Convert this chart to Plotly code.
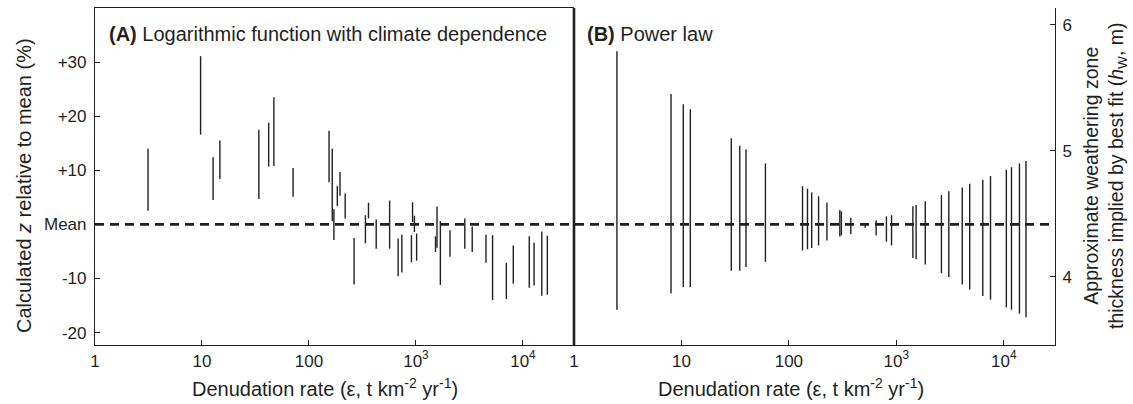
import plotly.graph_objects as go

# ---------------- Data ----------------
# Panel A: logarithmic function with climate dependence (% relative to mean)
a_rate = [3.13, 9.7, 12.7, 14.7, 34, 42, 47, 71, 154, 165, 171, 184, 195, 218,
          264, 337, 360, 425, 567, 681, 738, 907, 929, 967, 1014, 1523, 1573,
          1690, 2080, 2860, 3355, 4510, 5200, 6990, 8120, 11450, 12700, 15000, 16900]
a_high = [14.0, 31.1, 12.4, 15.5, 17.5, 18.8, 23.5, 10.4, 17.3, 14.0, 2.8, 7.1, 9.7, 5.7,
          -2.5, 1.7, 4.0, 0.9, 4.4, -2.6, -1.9, -2.0, 4.1, 1.6, -1.7, -2.2, 3.3,
          0.6, -1.1, 1.1, -0.4, -1.9, -2.0, -7.1, -3.9, -2.2, -3.4, -1.3, -2.1]
a_low = [2.5, 16.6, 4.5, 8.4, 4.7, 10.7, 10.8, 5.1, 7.8, 0.6, -2.9, 3.4, 5.3, 1.1,
         -11.1, -3.5, 1.1, -4.5, -4.5, -9.6, -8.9, -7.0, 0.4, -1.4, -6.7, -5.1, -4.3,
         -11.2, -6.0, -4.5, -5.1, -7.1, -14.0, -13.8, -11.0, -11.7, -11.3, -13.2, -13.0]

# Panel B: power law (weathering zone thickness, m)
b_rate = [2.51, 8.0, 10.4, 12.1, 29.1, 34.9, 39.9, 60.5, 134, 149, 163, 189, 226, 298,
          308, 377, 513, 649, 809, 903, 1426, 1528, 1860, 2630, 3080, 4110, 4820,
          6380, 7530, 10570, 11800, 14000, 16100]
b_high = [5.79, 5.45, 5.37, 5.33, 5.10, 5.04, 5.01, 4.90, 4.72, 4.70, 4.67, 4.64, 4.59, 4.53,
          4.52, 4.47, 4.42, 4.45, 4.48, 4.49, 4.56, 4.57, 4.60, 4.65, 4.68, 4.71, 4.74,
          4.77, 4.80, 4.85, 4.87, 4.90, 4.92]
b_low = [3.74, 3.87, 3.92, 3.92, 4.05, 4.05, 4.08, 4.12, 4.21, 4.22, 4.23, 4.25, 4.29, 4.32,
         4.33, 4.34, 4.39, 4.33, 4.28, 4.25, 4.15, 4.14, 4.10, 4.03, 4.00, 3.94, 3.90,
         3.85, 3.82, 3.76, 3.74, 3.71, 3.68]

x_tickvals = [1, 10, 100, 1000, 10000]
x_ticktext = ["1", "10", "100", "10<sup>3</sup>", "10<sup>4</sup>"]
y_tickvals = [30, 20, 10, 0, -10, -20]
y_ticktext = ["+30", "+20", "+10", "Mean", "-10", "-20"]
y2_tickvals = [4, 5, 6]


def segments(xv, lo, hi):
    xs, ys = [], []
    for x, l, h in zip(xv, lo, hi):
        xs += [x, x, None]
        ys += [l, h, None]
    return xs, ys


INK = "#231f20"
FONT = "Liberation Sans, Arial, Helvetica, sans-serif"

fig = go.Figure()
ax, ay = segments(a_rate, a_low, a_high)
fig.add_trace(go.Scatter(x=ax, y=ay, mode="lines", xaxis="x", yaxis="y",
                         line=dict(color=INK, width=1.4), showlegend=False,
                         hoverinfo="skip"))
bx, by = segments(b_rate, b_low, b_high)
fig.add_trace(go.Scatter(x=bx, y=by, mode="lines", xaxis="x2", yaxis="y2",
                         line=dict(color=INK, width=1.4), showlegend=False,
                         hoverinfo="skip"))

L, R, T, B = 95, 78, 8, 59
PW = 1133 - L - R
PH = 404 - T - B
split = (574 - L) / PW

axis_common = dict(showgrid=False, zeroline=False, showline=True, linecolor=INK,
                   linewidth=1.2, ticks="inside", ticklen=5, tickwidth=1,
                   tickcolor=INK, tickfont=dict(family=FONT, size=17, color=INK))

fig.update_layout(
    width=1133, height=404,
    margin=dict(l=L, r=R, t=T, b=B),
    paper_bgcolor="white", plot_bgcolor="white",
    font=dict(family=FONT, color=INK),
    xaxis=dict(type="log", range=[0, 4.477], domain=[0, split], anchor="y",
               tickvals=x_tickvals, ticktext=x_ticktext, mirror=True,
               ticklabelstandoff=0, **axis_common),
    yaxis=dict(range=[-22.3, 40], anchor="x", tickvals=y_tickvals,
               ticktext=y_ticktext, ticklabelstandoff=4, **axis_common),
    xaxis2=dict(type="log", range=[0, 4.477], domain=[split, 1], anchor="y2",
                tickvals=x_tickvals, ticktext=x_ticktext,
                ticklabelstandoff=0, **axis_common),
    yaxis2=dict(range=[3.461, 6.132], anchor="x2", side="right",
                tickvals=y2_tickvals, ticklabelstandoff=3, **axis_common),
)

# mean dashed line across both panels
fig.add_shape(type="line", xref="paper", yref="y", x0=0, x1=1, y0=0, y1=0,
              line=dict(color=INK, width=2.6, dash="9px,6px"), layer="below")
# thick divider between panels
fig.add_shape(type="line", xref="paper", yref="paper", x0=split, x1=split,
              y0=0, y1=1, line=dict(color=INK, width=2.6))


def px_x(px):
    return (px - L) / PW


def px_y(py):
    return 1 - (py - T) / PH


TF = dict(family=FONT, size=20, color=INK)
ann = []
ann.append(dict(text="<b>(A)</b> Logarithmic function with climate dependence",
                xref="paper", yref="paper", x=px_x(107), y=px_y(34), xanchor="left",
                yanchor="middle", showarrow=False, font=TF))
ann.append(dict(text="<b>(B)</b> Power law",
                xref="paper", yref="paper", x=px_x(585), y=px_y(34),
                xanchor="left", yanchor="middle", showarrow=False, font=TF))
for xc in [325, 791]:
    ann.append(dict(text="Denudation rate (ε, t km<sup>-2</sup> yr<sup>-1</sup>)",
                    xref="paper", yref="paper", x=px_x(xc), y=px_y(387),
                    xanchor="center", yanchor="middle", showarrow=False, font=TF))
ann.append(dict(text="Calculated <i>z</i> relative to mean (%)",
                xref="paper", yref="paper", x=px_x(24), y=px_y(186), textangle=-90,
                xanchor="center", yanchor="middle", showarrow=False, font=TF))
ann.append(dict(text="Approximate weathering zone<br>thickness implied by best fit (<i>h</i><sub>W</sub>, m)",
                xref="paper", yref="paper", x=px_x(1105), y=px_y(176), textangle=-90,
                xanchor="center", yanchor="middle", showarrow=False,
                font=dict(family=FONT, size=19.5, color=INK)))
fig.update_layout(annotations=ann)

# remove the browser's default 8px page margin so the figure sits at (0, 0)
fig.write_html("out.html", config={"displayModeBar": False},
               post_script="document.body.style.margin='0';document.body.style.overflow='hidden';")
